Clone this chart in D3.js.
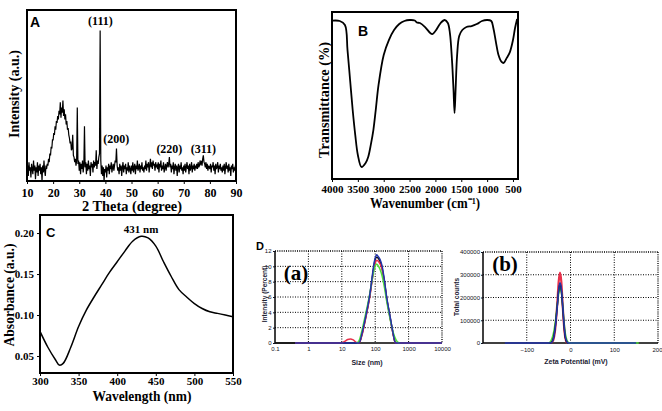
<!DOCTYPE html>
<html><head><meta charset="utf-8">
<script src="https://cdn.jsdelivr.net/npm/d3@7"></script>
<style>body{margin:0;background:#fff} svg{display:block;background:#fff}</style>
</head><body>
<svg id="c" width="662" height="411"></svg>
<script>
// ---------- DATA ----------
// Panel A: XRD, sampled every 0.25 degree from 10 to 90
const xrdStart = 10, xrdStep = 0.25;
const xrdIntensity = [
5,9,3,11,6,8,2,10,7,4,12,6,9,1,8,5,11,3,9,6,
10,4,8,0,9,5,12,6,3,9,7,10,9,13,11,16,15,20,19,24,
24,28,27,32,30,35,34,38,36,41,39,46,37,43,40,47,38,42,36,39,
33,35,30,31,27,25,22,23,18,19,27,15,14,11,13,9,12,43,10,12,
6,11,4,10,7,12,5,9,32,8,11,4,10,6,12,7,9,3,11,8,
10,5,12,8,11,9,18,7,12,10,14,16,88,12,4,9,3,8,0,7,
5,9,2,8,6,10,4,9,7,11,5,8,10,6,9,12,11,19,9,6,
8,4,10,6,9,3,8,11,5,9,7,10,4,8,6,11,5,9,7,4,
9,6,11,5,8,10,4,9,7,12,6,8,10,5,9,7,11,6,8,5,
9,7,12,6,10,8,11,5,9,13,8,11,7,12,9,10,6,11,8,9,
7,11,5,10,8,12,6,9,7,11,5,8,10,6,9,11,8,10,14,8,
10,5,9,7,11,4,8,10,6,9,3,8,10,5,9,7,11,6,8,4,
9,6,10,5,8,11,7,9,4,10,6,8,11,5,9,7,10,6,9,8,
10,7,11,8,9,12,10,11,9,13,15,11,10,8,11,7,10,6,9,8,
7,10,5,9,8,11,6,9,4,10,7,8,11,5,9,7,10,6,8,5,
9,6,10,4,8,11,7,9,5,10,6,8,3,9,7,10,5,8,6,9,
7];
const xrdTicks = [10,20,30,40,50,60,70,80,90];
const xrdPeakLabels = ["(111)","(200)","(220)","(311)"];
const xrdPeakPos = [38.1, 44.2, 64.5, 77.5];
const xrdPeakLabelLevel = [89, 20, 14, 14];

// Panel B: FTIR
const ftirWavenumber = [4000,3850,3750,3700,3650,3600,3550,3500,3430,3350,3300,3250,3200,3150,3100,3000,2900,2800,2700,2600,2500,2400,2360,2300,2200,2100,2060,2000,1900,1820,1760,1720,1680,1650,1630,1610,1580,1540,1480,1400,1300,1200,1100,1000,920,880,830,780,720,680,620,560,500,460,420];
const ftirTransmittance = [94.8,94.6,92.2,77.2,59.3,41.3,26.3,14.4,7.2,9.6,13.2,20.4,29.3,42.5,56.3,74.3,83.2,89.2,92.8,94.6,95.2,94.9,93.7,93.4,91,87.4,86.8,88.6,93.4,95.2,93.4,87.4,71.3,53.3,39.5,53.3,74.3,85.6,89.2,91,91.6,92.8,94.6,95.2,94.6,90.4,82,74.3,70.1,69.5,72.5,76,83.2,90.4,95.8];
const ftirTicks = [4000,3500,3000,2500,2000,1500,1000,500];

// Panel C: UV-Vis
const uvWavelength = [300,310,320,325,330,340,350,360,370,380,390,400,410,420,431,440,450,460,470,480,490,500,510,520,530,540,550];
const uvAbsorbance = [0.080,0.061,0.0455,0.039,0.041,0.061,0.086,0.106,0.122,0.137,0.152,0.165,0.178,0.190,0.196,0.194,0.184,0.165,0.147,0.131,0.122,0.114,0.108,0.104,0.102,0.100,0.098];
const uvXTicks = [300,350,400,450,500,550];
const uvYTicks = [0.05,0.10,0.15,0.20];

// Panel D(a): DLS size distribution
const dlsSize = [0.1,0.4,10,12,15,18,22,28,33,40,50,60,70,80,90,100,110,122,140,160,190,220,260,300,350,400,460,530,10000];
const dlsRed   = [null,0,0,0.2,0.45,0.52,0.4,0.05,0,1.0,2.9,4.6,6.2,8.0,9.5,10.4,10.8,10.7,10.3,9.6,7.8,5.8,4.0,2.5,1.0,0,0,0,0];
const dlsBlack = [0,0,0,0,0,0,0,0,0,1.1,3.0,4.7,6.4,8.2,9.8,10.9,11.2,11.1,10.6,9.8,7.9,5.9,4.1,2.6,1.0,0,null,null,null];
const dlsGreen = [null,null,null,null,null,null,null,0,0.3,1.6,3.5,5.1,6.6,8.1,9.3,10.0,10.3,10.1,9.6,8.8,7.2,5.5,3.8,2.5,1.3,0.6,0.15,0,null];
const dlsBlue  = [null,0,0,0,0,0,0,0,0,1.2,3.1,4.8,6.5,8.4,10.1,11.1,11.5,11.3,10.9,10.1,8.1,6.0,4.2,2.7,1.1,0,0,0,0];
const dlsXTicks = [0.1,1,10,100,1000,10000];
const dlsYTicks = [0,2,4,6,8,10,12];

// Panel D(b): zeta potential
const zetaMV = [-150,-50,-45,-40,-35,-30,-27,-24,-21,-18,-15,-12,-8,-5,0,150,156];
const zetaRed   = [null,null,0,10000,60000,180000,270000,310000,270000,170000,80000,25000,0,null,null,null,null];
const zetaBlack = [null,0,0,15000,70000,170000,230000,260000,230000,160000,80000,25000,3000,0,null,null,null];
const zetaGreen = [null,0,8000,35000,90000,170000,215000,240000,225000,170000,100000,45000,12000,3000,0,0,0];
const zetaBlue  = [0,0,0,12000,65000,165000,235000,265000,240000,170000,90000,30000,5000,0,0,0,null];
const zetaXTicks = [-100,0,100,200];
const zetaYTicks = [0,100000,200000,300000,400000];

// ---------- DRAW ----------
const svg = d3.select("#c");
const SERIF = "'Liberation Serif','Times New Roman',serif";
const SANS = "'Liberation Sans',Arial,sans-serif";
const defs = svg.append("defs");
function clip(id,x,y,w,h){defs.append("clipPath").attr("id",id).append("rect").attr("x",x).attr("y",y).attr("width",w).attr("height",h);}
function txt(g,s,x,y,o){const t=g.append("text").attr("x",x).attr("y",y).text(s)
  .attr("font-family",o.f||SERIF).attr("font-weight",o.w||"bold").attr("font-size",o.s||12)
  .attr("text-anchor",o.a||"middle").attr("fill",o.c||"#000");
  if(o.len) t.attr("textLength",o.len).attr("lengthAdjust","spacingAndGlyphs");
  if(o.r) t.attr("transform",`rotate(-90,${x},${y})`); return t;}
function styleAxis(g,font,size,weight,color){
  g.select(".domain").remove();
  g.selectAll("text").attr("font-family",font).attr("font-size",size).attr("font-weight",weight).attr("fill",color||"#000");
  g.selectAll("line").attr("stroke",color||"#000");
}

// Panel A
{
  const L=27,R=236,T=10,B=181;
  const x=d3.scaleLinear().domain([10,90]).range([L,R]);
  const y=d3.scaleLinear().domain([0,100]).range([B,T]);
  clip("clipA",L,T,R-L,B-T);
  const pts=xrdIntensity.map((v,i)=>[xrdStart+i*xrdStep,v]);
  svg.append("path").datum(pts).attr("clip-path","url(#clipA)").attr("fill","none").attr("stroke","#000").attr("stroke-width",1.2)
    .attr("d",d3.line().x(d=>x(d[0])).y(d=>y(d[1])));
  const ax=svg.append("g").attr("transform",`translate(0,${B})`).call(d3.axisBottom(x).tickValues(xrdTicks).tickSize(3).tickPadding(4));
  styleAxis(ax,SERIF,12,"bold");
  svg.append("rect").attr("x",L).attr("y",T).attr("width",R-L).attr("height",B-T).attr("fill","none").attr("stroke","#000").attr("stroke-width",2);
  xrdPeakLabels.forEach((s,i)=>txt(svg,s,x(xrdPeakPos[i]),y(xrdPeakLabelLevel[i])-4,{s:12}));
  txt(svg,"A",30,27,{f:SANS,s:14,a:"start"});
  txt(svg,"2 Theta (degree)",132,211,{s:15,len:100});
  txt(svg,"Intensity (a.u.)",19,94,{s:15,r:true,len:88});
}

// Panel B
{
  const L=332,R=518,T=12,B=179;
  const x=d3.scaleLinear().domain([4000,403]).range([L,R]);
  const y=d3.scaleLinear().domain([0,100]).range([B,T]);
  clip("clipB",L,T,R-L,B-T);
  svg.append("path").datum(ftirWavenumber.map((w,i)=>[w,ftirTransmittance[i]])).attr("clip-path","url(#clipB)")
    .attr("fill","none").attr("stroke","#000").attr("stroke-width",1.8)
    .attr("d",d3.line().x(d=>x(d[0])).y(d=>y(d[1])).curve(d3.curveCatmullRom));
  const ax=svg.append("g").attr("transform",`translate(0,${B})`).call(d3.axisBottom(x).tickValues(ftirTicks).tickFormat(d3.format("d")).tickSize(3).tickPadding(3));
  styleAxis(ax,SERIF,11,"bold");
  svg.append("rect").attr("x",L).attr("y",T).attr("width",R-L).attr("height",B-T).attr("fill","none").attr("stroke","#000").attr("stroke-width",2);
  txt(svg,"B",358,36,{f:SANS,s:14,a:"start"});
  txt(svg,"Wavenumber (cm\u207B\u00B9)",425,208,{s:15,len:110});
  txt(svg,"Transmittance (%)",329,100,{s:15,r:true,len:116});
}

// Panel C
{
  const L=40,R=233,T=215,B=373;
  const x=d3.scaleLinear().domain([300,550]).range([L,R]);
  const y=d3.scaleLinear().domain([0.0293,0.222]).range([B,T]);
  clip("clipC",L,T,R-L,B-T);
  svg.append("path").datum(uvWavelength.map((w,i)=>[w,uvAbsorbance[i]])).attr("clip-path","url(#clipC)")
    .attr("fill","none").attr("stroke","#000").attr("stroke-width",1.5)
    .attr("d",d3.line().x(d=>x(d[0])).y(d=>y(d[1])).curve(d3.curveCatmullRom));
  const ax=svg.append("g").attr("transform",`translate(0,${B})`).call(d3.axisBottom(x).tickValues(uvXTicks).tickSize(3).tickPadding(1));
  styleAxis(ax,SERIF,11,"bold");
  const ay=svg.append("g").attr("transform",`translate(${L},0)`).call(d3.axisLeft(y).tickValues(uvYTicks).tickFormat(d3.format(".2f")).tickSize(3).tickPadding(3));
  styleAxis(ay,SERIF,11,"bold");
  svg.append("rect").attr("x",L).attr("y",T).attr("width",R-L).attr("height",B-T).attr("fill","none").attr("stroke","#000").attr("stroke-width",2);
  txt(svg,"C",46,237,{f:SANS,s:13,a:"start"});
  txt(svg,"431 nm",x(431),233,{s:11});
  txt(svg,"Wavelength (nm)",142,401,{s:15,len:99});
  txt(svg,"Absorbance (a.u.)",14,295,{s:15,r:true,len:103});
}

// Panel D(a)
const dlsColors = ["#111111","#e8304a","#4ee03a","#2233aa"];
{
  const L=275,R=442,T=251,B=343;
  const x=d3.scaleLog().domain([0.1,10000]).range([L,R]);
  const y=d3.scaleLinear().domain([0,12]).range([B,T]);
  const g=svg.append("g");
  [1,10,100,1000].forEach(v=>g.append("line").attr("x1",x(v)).attr("x2",x(v)).attr("y1",T).attr("y2",B).attr("stroke","#000").attr("stroke-dasharray","1,1.5"));
  [2,4,6,8,10].forEach(v=>g.append("line").attr("x1",L).attr("x2",R).attr("y1",y(v)).attr("y2",y(v)).attr("stroke","#000").attr("stroke-dasharray","1,1.5"));
  g.append("line").attr("x1",L).attr("x2",R).attr("y1",T).attr("y2",T).attr("stroke","#000").attr("stroke-width",1.3).attr("stroke-dasharray","1,1.2");
  g.append("line").attr("x1",R).attr("x2",R).attr("y1",T).attr("y2",B).attr("stroke","#000").attr("stroke-width",1.3).attr("stroke-dasharray","1,1.2");
  g.append("line").attr("x1",L).attr("x2",L).attr("y1",T).attr("y2",B).attr("stroke","#000").attr("stroke-width",1.5);
  g.append("line").attr("x1",L).attr("x2",R).attr("y1",B).attr("y2",B).attr("stroke","#000").attr("stroke-width",1.5);
  const line=d3.line().defined(d=>d[1]!=null).x(d=>x(d[0])).y(d=>y(d[1])).curve(d3.curveMonotoneX);
  [dlsBlack,dlsRed,dlsGreen,dlsBlue].forEach((s,k)=>{
    g.append("path").datum(dlsSize.map((v,i)=>[v,s[i]])).attr("fill","none").attr("stroke",dlsColors[k]).attr("stroke-width",1.5).attr("d",line);
  });
  const ax=g.append("g").attr("transform",`translate(0,${B})`).call(d3.axisBottom(x).tickValues(dlsXTicks).tickFormat(d=>String(d)).tickSize(0).tickPadding(4));
  styleAxis(ax,SANS,6,"normal","#112");
  const ay=g.append("g").attr("transform",`translate(${L},0)`).call(d3.axisLeft(y).tickValues(dlsYTicks).tickSize(2).tickPadding(1.5));
  styleAxis(ay,SANS,6,"normal","#112");
  txt(g,"D",256,250,{f:SANS,s:11,a:"start"});
  txt(g,"(a)",296,280,{s:21});
  txt(g,"Size (nm)",367,365,{f:SANS,s:7,c:"#223"});
  txt(g,"Intensity (Percent)",267,294,{f:SANS,s:6.5,c:"#223",r:true});
}

// Panel D(b)
{
  const L=483,R=658,T=252,B=343;
  const x=d3.scaleLinear().domain([-200,200]).range([L,R]);
  const y=d3.scaleLinear().domain([0,400000]).range([B,T]);
  const g=svg.append("g");
  [-100,0,100].forEach(v=>g.append("line").attr("x1",x(v)).attr("x2",x(v)).attr("y1",T).attr("y2",B).attr("stroke","#000").attr("stroke-dasharray","1,1.5"));
  [100000,200000,300000].forEach(v=>g.append("line").attr("x1",L).attr("x2",R).attr("y1",y(v)).attr("y2",y(v)).attr("stroke","#000").attr("stroke-dasharray","1,1.5"));
  g.append("line").attr("x1",L).attr("x2",R).attr("y1",T).attr("y2",T).attr("stroke","#000").attr("stroke-width",1.3).attr("stroke-dasharray","1,1.2");
  g.append("line").attr("x1",R).attr("x2",R).attr("y1",T).attr("y2",B).attr("stroke","#000").attr("stroke-width",1.3).attr("stroke-dasharray","1,1.2");
  g.append("line").attr("x1",L).attr("x2",L).attr("y1",T).attr("y2",B).attr("stroke","#000").attr("stroke-width",1.5);
  g.append("line").attr("x1",L).attr("x2",R).attr("y1",B).attr("y2",B).attr("stroke","#000").attr("stroke-width",1.5);
  const line=d3.line().defined(d=>d[1]!=null).x(d=>x(d[0])).y(d=>y(d[1])).curve(d3.curveMonotoneX);
  const order=[[zetaRed,"#e8304a",2.2],[zetaGreen,"#4ee03a",1.5],[zetaBlack,"#111111",1.5],[zetaBlue,"#2233aa",1.5]];
  order.forEach(([s,c,w])=>{
    g.append("path").datum(zetaMV.map((v,i)=>[v,s[i]])).attr("fill","none").attr("stroke",c).attr("stroke-width",w).attr("d",line);
  });
  const ax=g.append("g").attr("transform",`translate(0,${B})`).call(d3.axisBottom(x).tickValues(zetaXTicks).tickSize(0).tickPadding(5));
  styleAxis(ax,SANS,6,"normal","#112");
  ax.selectAll("text").filter(d=>d===200).attr("text-anchor","end").attr("dx","4");
  const ay=g.append("g").attr("transform",`translate(${L},0)`).call(d3.axisLeft(y).tickValues(zetaYTicks).tickFormat(d3.format("d")).tickSize(2).tickPadding(1));
  styleAxis(ay,SANS,6,"normal","#112");
  txt(g,"(b)",505,271,{s:21});
  txt(g,"Zeta Potential (mV)",576,364,{f:SANS,s:7,c:"#223"});
  txt(g,"Total counts",459,297,{f:SANS,s:6.5,c:"#223",r:true});
}
</script>
</body></html>
